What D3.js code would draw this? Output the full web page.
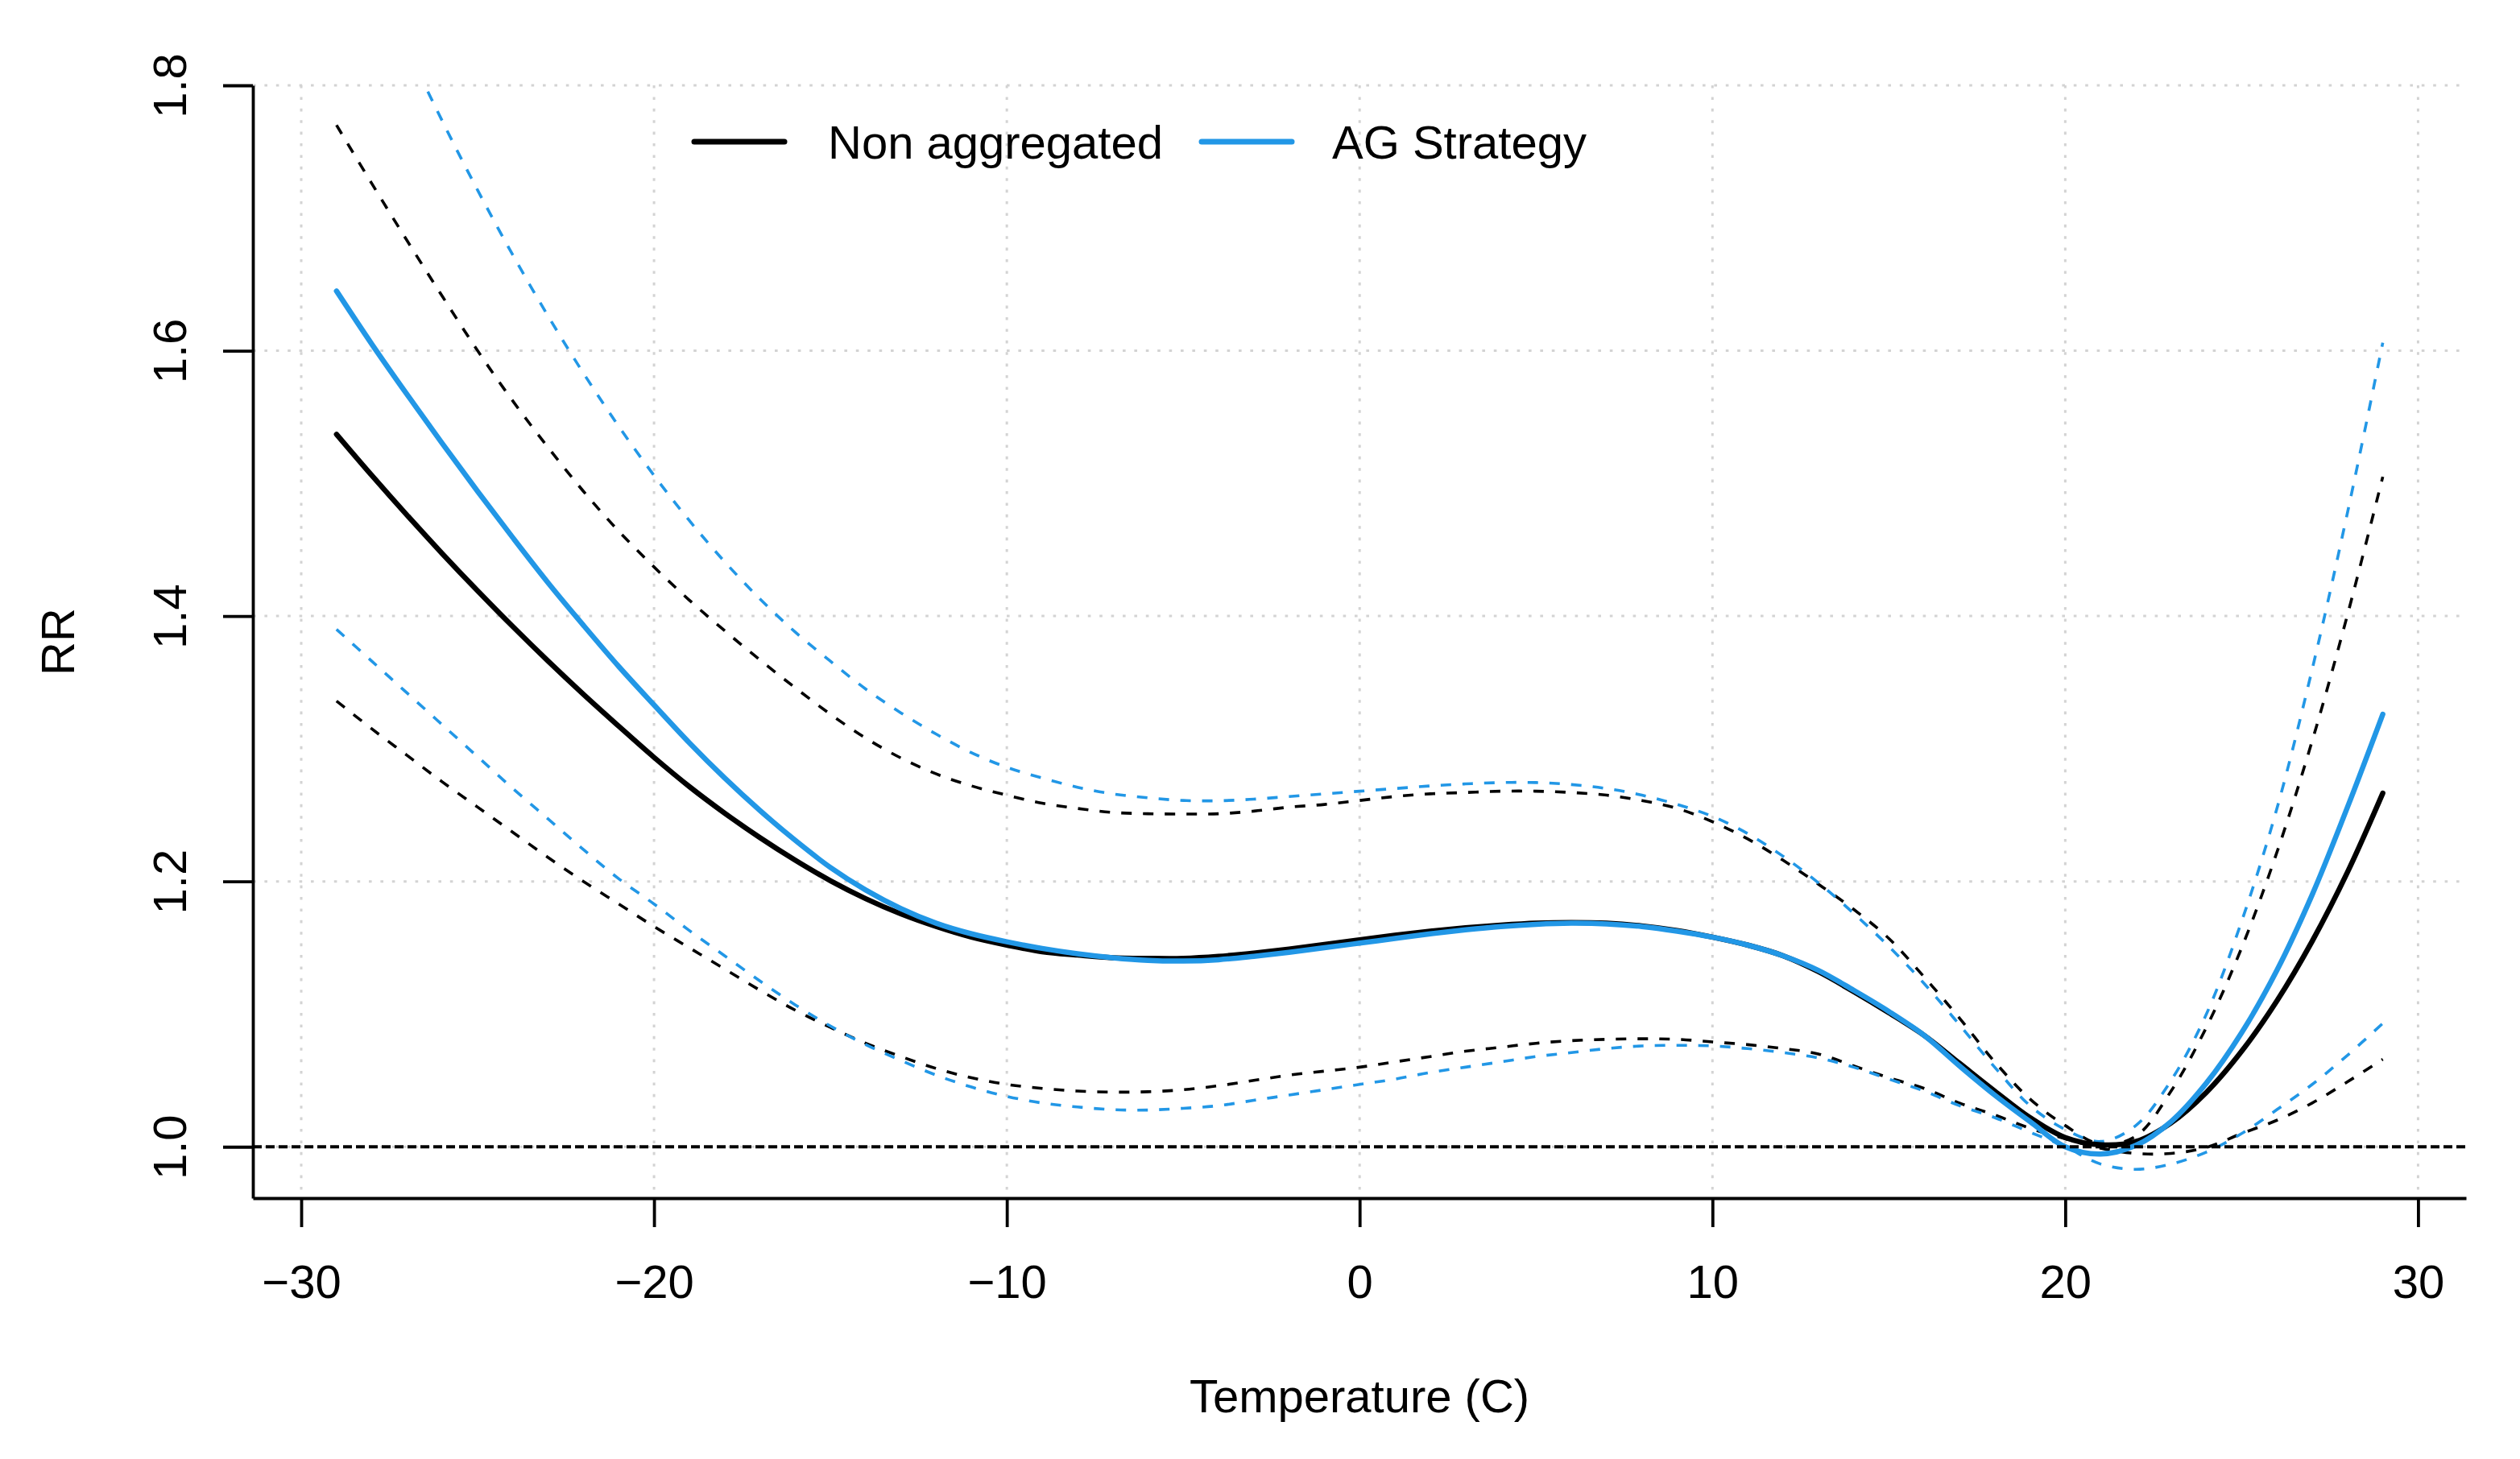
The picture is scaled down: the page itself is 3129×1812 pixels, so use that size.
<!DOCTYPE html>
<html>
<head>
<meta charset="utf-8">
<script src="https://cdn.jsdelivr.net/npm/d3@7/dist/d3.min.js"></script>
<style>
  html, body { margin: 0; padding: 0; background: #ffffff; }
  svg text { font-family: "Liberation Sans", Arial, Helvetica, sans-serif; fill: #000; }
</style>
</head>
<body>
<svg id="chart" width="3129" height="1812"></svg>
<script>
// ---------- data ----------
const temps = [-29,-28,-27,-26,-25,-24,-23,-22,-21,-20,-19,-18,-17,-16,-15,-14,-13,-12,-11,-10,
  -9,-8,-7,-6,-5,-4,-3,-2,-1,0,1,2,3,4,5,6,7,8,9,10,11,12,13,14,15,16,17,18,19,20,
  21,22,23,24,25,26,27,28,29];

// Non aggregated: fitted RR and confidence bounds
const naFit = [1.537,1.506,1.476,1.447,1.419,1.392,1.366,1.341,1.317,1.2935,1.2715,1.2515,1.233,1.216,1.2005,1.187,1.1755,1.166,1.158,1.152,
  1.147,1.1445,1.1425,1.142,1.142,1.1435,1.146,1.149,1.1525,1.156,1.1595,1.1625,1.165,1.167,1.1685,1.169,1.1685,1.1665,1.163,1.158,
  1.152,1.144,1.132,1.117,1.101,1.084,1.063,1.042,1.022,1.007,1.0015,1.004,1.018,1.041,1.072,1.110,1.155,1.207,1.2665];
const naUpper = [1.770,1.726,1.683,1.641,1.600,1.562,1.527,1.494,1.464,1.437,1.412,1.389,1.367,1.346,1.326,1.308,1.293,1.281,1.272,1.265,
  1.259,1.255,1.252,1.251,1.2508,1.251,1.253,1.256,1.258,1.261,1.264,1.266,1.267,1.268,1.268,1.267,1.265,1.261,1.255,1.245,
  1.232,1.216,1.198,1.179,1.157,1.128,1.097,1.064,1.036,1.016,1.002,1.008,1.042,1.090,1.150,1.222,1.306,1.401,1.505];
const naLower = [1.336,1.315,1.295,1.275,1.256,1.237,1.218,1.200,1.183,1.166,1.150,1.134,1.118,1.103,1.090,1.078,1.068,1.059,1.052,1.047,
  1.044,1.042,1.0412,1.0415,1.043,1.046,1.050,1.054,1.057,1.060,1.064,1.068,1.072,1.075,1.078,1.080,1.081,1.0814,1.081,1.079,
  1.077,1.074,1.070,1.061,1.052,1.044,1.033,1.024,1.014,1.006,0.999,0.995,0.995,0.9995,1.010,1.020,1.033,1.049,1.066];

// AG Strategy: fitted RR and confidence bounds
const agFit = [1.645,1.605,1.567,1.530,1.494,1.459,1.425,1.393,1.362,1.333,1.3045,1.278,1.2535,1.231,1.2105,1.1935,1.1795,1.1685,1.1605,1.1545,
  1.1495,1.1455,1.1425,1.1405,1.140,1.141,1.1435,1.1465,1.150,1.1535,1.157,1.1605,1.1635,1.166,1.1677,1.1685,1.168,1.166,1.1625,1.158,
  1.152,1.144,1.133,1.118,1.102,1.084,1.061,1.039,1.019,1.000,0.9945,1.001,1.019,1.048,1.086,1.133,1.190,1.256,1.326];
const agUpper = [1.944,1.885,1.828,1.773,1.721,1.672,1.626,1.583,1.543,1.506,1.472,1.441,1.413,1.388,1.366,1.345,1.327,1.311,1.297,1.286,
  1.278,1.271,1.266,1.263,1.261,1.2608,1.262,1.264,1.266,1.268,1.270,1.272,1.2735,1.2745,1.2745,1.273,1.270,1.265,1.258,1.249,
  1.236,1.219,1.199,1.176,1.151,1.123,1.092,1.060,1.031,1.013,1.004,1.016,1.050,1.100,1.170,1.255,1.360,1.478,1.606];
const agLower = [1.390,1.366,1.342,1.318,1.294,1.270,1.247,1.224,1.202,1.183,1.163,1.144,1.125,1.107,1.091,1.077,1.065,1.054,1.045,1.038,
  1.033,1.030,1.028,1.0277,1.029,1.031,1.035,1.039,1.043,1.047,1.051,1.056,1.060,1.064,1.068,1.071,1.074,1.076,1.0765,1.076,
  1.074,1.071,1.067,1.060,1.051,1.042,1.031,1.022,1.011,1.000,0.987,0.983,0.987,0.996,1.010,1.028,1.047,1.069,1.093];

const xTicks = [-30,-20,-10,0,10,20,30];
const yTicks = [1.0,1.2,1.4,1.6,1.8];
const xLimits = [-31.37, 31.36];
const yLimits = [0.9613, 1.8];
const refLine = 1.0;
const seriesNames = ["Non aggregated", "AG Strategy"];
const seriesColors = ["#000000", "#2297E6"];
const xTitle = "Temperature (C)";
const yTitle = "RR";

// ---------- layout ----------
const plotL = 314, plotR = 3062, plotT = 106, plotB = 1488;
const FS = 58;

const svg = d3.select("#chart");
const x = d3.scaleLinear().domain(xLimits).range([plotL, plotR]);
const y = d3.scaleLinear().domain(yLimits).range([plotB, plotT]);

svg.append("defs").append("clipPath").attr("id", "plotclip")
  .append("rect").attr("x", plotL).attr("y", plotT)
  .attr("width", plotR - plotL).attr("height", plotB - plotT);

// grid
const grid = svg.append("g").attr("stroke", "#D3D3D3").attr("stroke-width", 3)
  .attr("stroke-dasharray", "3.6,10.8").attr("fill", "none");
grid.selectAll("line.v").data(xTicks).join("line").attr("class", "v")
  .attr("x1", d => x(d)).attr("x2", d => x(d)).attr("y1", plotT).attr("y2", plotB);
grid.selectAll("line.h").data(yTicks).join("line").attr("class", "h")
  .attr("x1", plotL).attr("x2", plotR).attr("y1", d => y(d)).attr("y2", d => y(d));

// curves
const lineGen = vals => d3.line()
  .x((d, i) => x(temps[i])).y(d => y(d))
  .curve(d3.curveCatmullRom.alpha(0.5))(vals);

const curves = svg.append("g").attr("clip-path", "url(#plotclip)").attr("fill", "none")
  .attr("stroke-linecap", "round").attr("stroke-linejoin", "round");

const dashed = [
  {v: naUpper, c: seriesColors[0]}, {v: naLower, c: seriesColors[0]},
  {v: agUpper, c: seriesColors[1]}, {v: agLower, c: seriesColors[1]}
];
curves.selectAll("path.ci").data(dashed).join("path").attr("class", "ci")
  .attr("d", d => lineGen(d.v)).attr("stroke", d => d.c)
  .attr("stroke-width", 3.6).attr("stroke-dasharray", "13,14").attr("stroke-linecap", "butt");

const solid = [{v: naFit, c: seriesColors[0]}, {v: agFit, c: seriesColors[1]}];
curves.selectAll("path.fit").data(solid).join("path").attr("class", "fit")
  .attr("d", d => lineGen(d.v)).attr("stroke", d => d.c).attr("stroke-width", 6.5);

// reference line at RR = 1
svg.append("line")
  .attr("x1", plotL).attr("x2", plotR).attr("y1", y(refLine)).attr("y2", y(refLine))
  .attr("stroke", "#000").attr("stroke-width", 3.8).attr("stroke-dasharray", "11,5");

// axes
const xAxis = svg.append("g").attr("transform", `translate(0,${plotB})`)
  .call(d3.axisBottom(x).tickValues(xTicks).tickSize(36).tickSizeOuter(0).tickPadding(47)
    .tickFormat(d => (d < 0 ? "\u2212" + Math.abs(d) : String(d))));
xAxis.selectAll("text").attr("font-size", FS).attr("font-family", null);

const yAxis = svg.append("g").attr("transform", `translate(${plotL},0)`)
  .call(d3.axisLeft(y).tickValues(yTicks).tickSize(37).tickSizeOuter(0)
    .tickFormat(d3.format(".1f")));
yAxis.selectAll("text").attr("font-size", FS).attr("font-family", null)
  .attr("x", 0).attr("dy", 0).attr("text-anchor", "middle")
  .attr("transform", "translate(-83,0) rotate(-90)");

[xAxis, yAxis].forEach(g => {
  g.attr("font-family", null);
  g.select(".domain").attr("stroke", "#000").attr("stroke-width", 3.8);
  g.selectAll(".tick line").attr("stroke", "#000").attr("stroke-width", 3.8);
});

// titles
svg.append("text").attr("x", (plotL + plotR) / 2).attr("y", 1754)
  .attr("text-anchor", "middle").attr("font-size", FS).text(xTitle);
svg.append("text").attr("transform", `translate(92,${(plotT + plotB) / 2}) rotate(-90)`)
  .attr("text-anchor", "middle").attr("font-size", FS).text(yTitle);

// legend
const legendItems = [
  {name: seriesNames[0], color: seriesColors[0], x0: 862, x1: 974, tx: 1028},
  {name: seriesNames[1], color: seriesColors[1], x0: 1492, x1: 1604, tx: 1654}
];
const lg = svg.append("g");
lg.selectAll("line").data(legendItems).join("line")
  .attr("x1", d => d.x0).attr("x2", d => d.x1).attr("y1", 176).attr("y2", 176)
  .attr("stroke", d => d.color).attr("stroke-width", 7).attr("stroke-linecap", "round");
lg.selectAll("text").data(legendItems).join("text")
  .attr("x", d => d.tx).attr("y", 197).attr("font-size", FS).text(d => d.name);
</script>
</body>
</html>
